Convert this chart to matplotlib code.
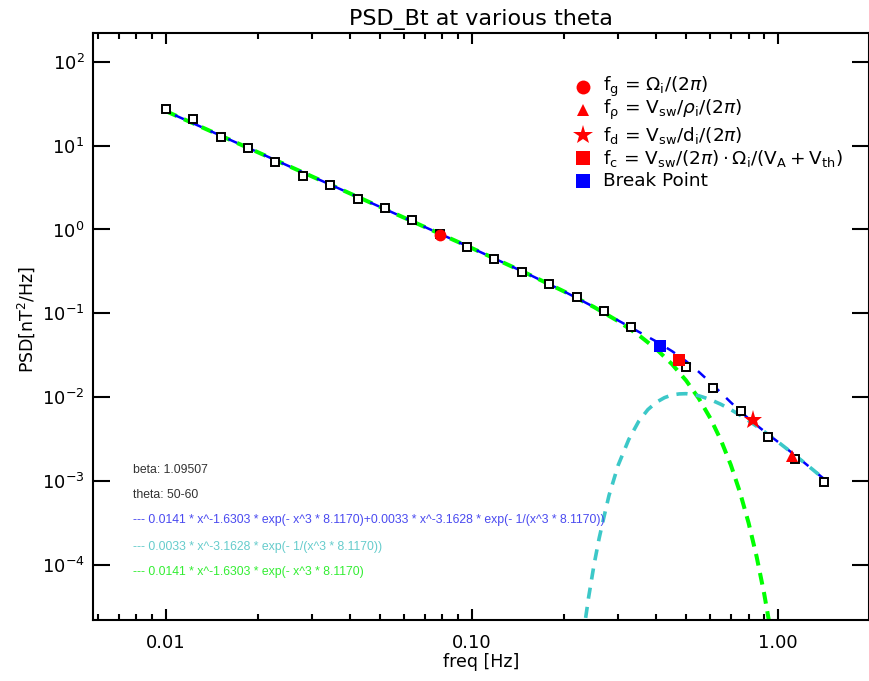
import numpy as np
import matplotlib
matplotlib.use('Agg')
import matplotlib.pyplot as plt
from matplotlib.ticker import FixedLocator, FixedFormatter, LogLocator, NullFormatter

plt.rcParams['lines.scale_dashes'] = False
plt.rcParams['mathtext.fontset'] = 'dejavusans'

# measured spectrum (open squares)
freq = [0.0100, 0.01228, 0.01509, 0.01853, 0.02277, 0.0280, 0.0344, 0.0423,
        0.0519, 0.0638, 0.0784, 0.0963, 0.1183, 0.1453, 0.1786, 0.2194,
        0.2696, 0.3312, 0.4068, 0.4998, 0.614, 0.7545, 0.9264, 1.138, 1.416]
psd = [27.3, 20.6, 12.8, 9.36, 6.32, 4.38, 3.42, 2.31, 1.80, 1.30, 0.877,
       0.618, 0.445, 0.311, 0.224, 0.157, 0.107, 0.0695, 0.0409, 0.0232,
       0.0130, 0.00692, 0.00340, 0.00182, 0.00098]

# fitted curves
fit_x = [0.01, 0.02, 0.05, 0.10, 0.15, 0.20, 0.25, 0.30, 0.35, 0.40, 0.45,
         0.50, 0.55, 0.60, 0.65, 0.70, 0.75, 0.80, 0.85, 0.90, 1.00, 1.10,
         1.20, 1.30, 1.42]
fit_total = [25.7, 8.30, 1.861, 0.597, 0.3025, 0.182, 0.1191, 0.0822, 0.0603,
             0.0461, 0.0354, 0.0269, 0.0201, 0.0150, 0.01129, 0.00868,
             0.00686, 0.00557, 0.00464, 0.00393, 0.00292, 0.002225,
             0.001727, 0.001361, 0.001042]

green_x = [0.01, 0.02, 0.05, 0.10, 0.15, 0.20, 0.25, 0.30, 0.35, 0.40, 0.45,
           0.50, 0.55, 0.60, 0.65, 0.70, 0.75, 0.80, 0.85, 0.90, 0.95]
green_y = [25.7, 8.30, 1.861, 0.597, 0.3025, 0.182, 0.1190, 0.0806, 0.05513,
           0.0374, 0.02474, 0.01583, 0.009683, 0.005617, 0.003064, 0.001559,
           7.34e-4, 3.18e-4, 1.257e-4, 4.51e-5, 1.46e-5]

cyan_x = [0.23, 0.24, 0.25, 0.26, 0.27, 0.28, 0.30, 0.325, 0.35, 0.375, 0.40,
          0.425, 0.45, 0.475, 0.50, 0.55, 0.60, 0.65, 0.70, 0.75, 0.80, 0.85,
          0.90, 1.00, 1.10, 1.20, 1.30, 1.42]
cyan_y = [1.38e-5, 4.06e-5, 9.96e-5, 2.09e-4, 3.84e-4, 6.76e-4, 1.552e-3,
          3.15e-3, 5.158e-3, 7.12e-3, 8.73e-3, 9.89e-3, 0.01067, 0.01096,
          0.01103, 0.010425, 0.009386, 0.00823, 0.007123, 0.006124,
          0.005254, 0.004513, 0.003888, 0.002918, 0.002225, 0.001727,
          0.001361, 0.001042]

# characteristic frequencies
fg = (0.0788, 0.87)
frho = (1.111, 0.0020)
fd = (0.829, 0.00537)
fc = (0.475, 0.0279)
brk = (0.4115, 0.0409)

legend_labels = [r'$\mathrm{f_g}$ = $\Omega_\mathrm{i}/(2\pi)$',
                 r'$\mathrm{f_\rho}$ = $\mathrm{V_{sw}}/\rho_\mathrm{i}/(2\pi)$',
                 r'$\mathrm{f_d}$ = $\mathrm{V_{sw}/d_i}/(2\pi)$',
                 r'$\mathrm{f_c}$ = $\mathrm{V_{sw}}/(2\pi)\cdot\Omega_\mathrm{i}/(\mathrm{V_A+V_{th}})$',
                 'Break Point']

notes = ['beta: 1.09507', 'theta: 50-60',
         '--- 0.0141 * x^-1.6303 * exp(- x^3 * 8.1170)+0.0033 * x^-3.1628 * exp(- 1/(x^3 * 8.1170))',
         '--- 0.0033 * x^-3.1628 * exp(- 1/(x^3 * 8.1170))',
         '--- 0.0141 * x^-1.6303 * exp(- x^3 * 8.1170)']

BLUE = '#0000ff'
GREEN = '#00ff00'
CYAN = '#3cc8c8'

fig = plt.figure(figsize=(8.7, 6.81), dpi=100)
ax = fig.add_axes([0.1066, 0.0896, 0.8923, 0.8619])
ax.set_xscale('log')
ax.set_yscale('log')
ax.set_xlim(0.00576, 1.98)
ax.set_ylim(2.21e-5, 220)

ax.plot(green_x, green_y, color=GREEN, lw=2.9, linestyle=(0, (8.5, 5.5)))
ax.plot(fit_x, fit_total, color=BLUE, lw=1.8, linestyle=(7, (7, 7)))
ax.plot(cyan_x, cyan_y, color=CYAN, lw=2.6, linestyle=(0, (8, 6)))

ax.plot(freq, psd, 's', ms=5.8, mfc='white', mec='black', mew=1.4, ls='none')

ax.plot(*fg, 'o', color='red', ms=8.5, mew=0)
ax.plot(*frho, '^', color='red', ms=8, mew=0)
ax.plot(*fd, '*', color='red', ms=14, mew=0)
ax.plot(*fc, 's', color='red', ms=8.5, mew=0)
ax.plot(*brk, 's', color='blue', ms=8.5, mew=0)

# legend drawn by hand
leg_y = [0.908, 0.869, 0.826, 0.787, 0.748]
leg_mk = [('o', 'red', 10), ('^', 'red', 9), ('*', 'red', 15),
          ('s', 'red', 9.5), ('s', 'blue', 9.5)]
for yy, (m, c, s), lab in zip(leg_y, leg_mk, legend_labels):
    ax.plot([0.6316], [yy], m, color=c, ms=s, mew=0, transform=ax.transAxes,
            clip_on=False)
    ax.text(0.6574, yy, lab, transform=ax.transAxes, fontsize=13.3,
            va='center', ha='left')

note_y = [0.2555, 0.2129, 0.1704, 0.1249, 0.0823]
note_c = ['#333333', '#333333', '#4a4af0', '#66cccc', '#33ee33']
for yy, txt, c in zip(note_y, notes, note_c):
    ax.text(0.0519, yy, txt, transform=ax.transAxes, fontsize=8.8,
            color=c, va='center', ha='left',
            family=['Liberation Sans', 'DejaVu Sans'])

# axis ticks in IDL style
ax.xaxis.set_major_locator(FixedLocator([0.01, 0.1, 1.0]))
ax.xaxis.set_major_formatter(FixedFormatter(['0.01', '0.10', '1.00']))
ax.xaxis.set_minor_locator(LogLocator(base=10, subs=np.arange(2, 10), numticks=20))
ax.xaxis.set_minor_formatter(NullFormatter())
ax.yaxis.set_major_locator(FixedLocator([1e-4, 1e-3, 1e-2, 1e-1, 1, 10, 100]))
ax.yaxis.set_minor_locator(FixedLocator([]))
ax.tick_params(axis='both', which='both', direction='in', top=True,
               right=True, width=1.5, labelsize=13)
ax.tick_params(axis='x', which='major', length=8, pad=10)
ax.tick_params(axis='x', which='minor', length=4)
ax.tick_params(axis='y', which='major', length=12, pad=6)
for sp in ax.spines.values():
    sp.set_linewidth(1.5)

ax.set_xlabel('freq [Hz]', fontsize=12.5, labelpad=1)
ax.set_ylabel(r'PSD[nT$^2$/Hz]', fontsize=12.5)
ax.yaxis.set_label_coords(-0.072, 0.511)
ax.set_title('PSD_Bt at various theta', fontsize=16, pad=6)

fig.savefig('out.png', dpi=100)
